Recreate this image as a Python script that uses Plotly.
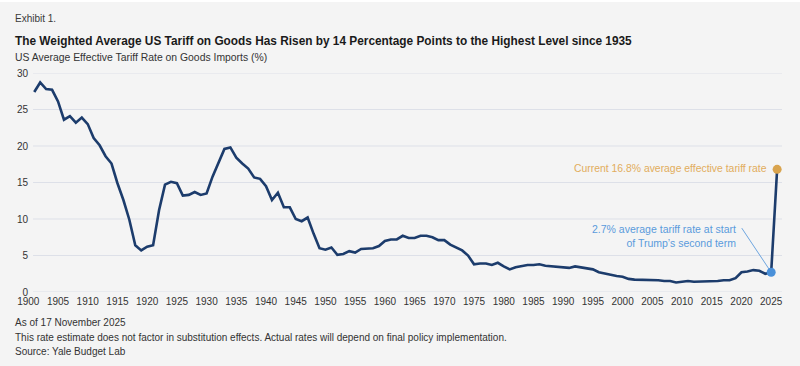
import plotly.graph_objects as go

years = list(range(1901, 2026))
tariff = [27.4, 28.7, 27.8, 27.7, 26.1, 23.6, 24.1, 23.2, 23.9, 23.0,
          21.1, 20.1, 18.6, 17.6, 14.9, 12.6, 9.9, 6.4, 5.7, 6.2,
          6.4, 11.2, 14.7, 15.1, 14.9, 13.2, 13.3, 13.7, 13.3, 13.5,
          15.8, 17.8, 19.6, 19.8, 18.4, 17.6, 16.9, 15.7, 15.5, 14.5,
          12.6, 13.6, 11.6, 11.6, 10.0, 9.7, 10.2, 8.0, 6.0, 5.8,
          6.1, 5.1, 5.2, 5.6, 5.4, 5.9, 5.9, 6.0, 6.3, 7.0,
          7.2, 7.2, 7.7, 7.4, 7.4, 7.7, 7.7, 7.5, 7.1, 7.1,
          6.5, 6.1, 5.7, 5.0, 3.8, 3.9, 3.9, 3.7, 4.0, 3.5,
          3.1, 3.4, 3.6, 3.7, 3.7, 3.8, 3.6, 3.5, 3.4, 3.4,
          3.3, 3.5, 3.4, 3.3, 3.1, 2.7, 2.5, 2.3, 2.2, 2.1,
          1.8, 1.7, 1.7, 1.7, 1.6, 1.6, 1.5, 1.5, 1.3, 1.4,
          1.5, 1.4, 1.4, 1.4, 1.5, 1.5, 1.6, 1.6, 1.9, 2.7,
          2.8, 3.0, 2.9, 2.5, 2.7]
start_term_year = 2025
start_term_rate = 2.7
current_year = 2026
current_rate = 16.8

x_ticks = list(range(1900, 2030, 5))
y_ticks = list(range(0, 35, 5))

title = "The Weighted Average US Tariff on Goods Has Risen by 14 Percentage Points to the Highest Level since 1935"
subtitle = "US Average Effective Tariff Rate on Goods Imports (%)"
exhibit = "Exhibit 1."
notes = ["As of 17 November 2025",
         "This rate estimate does not factor in substitution effects. Actual rates will depend on final policy implementation.",
         "Source: Yale Budget Lab"]
gold_label = "Current 16.8% average effective tariff rate"
blue_label = "2.7% average tariff rate at start<br>of Trump\u2019s second term"

NAVY = "#1c3c6c"
BLUE = "#4a90d9"
GOLD = "#d9a44e"
GOLD_TXT = "#e2ad5c"
BLUE_TXT = "#5a9bdc"
GRID = "#dde0e8"
BG = "#f4f4f4"
FONT = "Liberation Sans, Arial, Helvetica, sans-serif"

L, R, T, B = 27, 18, 73, 74
W, H = 800, 366
PW = W - L - R
PH = H - T - B

def px_x(p):
    return (p - L) / PW

def px_y(p):
    return (H - B - p) / PH

line_x = years + [current_year]
line_y = tariff + [current_rate]

fig = go.Figure()
fig.add_trace(go.Scatter(x=line_x, y=line_y, mode="lines",
                         line=dict(color=NAVY, width=2.6), hoverinfo="skip"))
fig.add_trace(go.Scatter(x=[start_term_year], y=[start_term_rate], mode="markers",
                         marker=dict(color=BLUE, size=9), hoverinfo="skip"))
fig.add_trace(go.Scatter(x=[current_year], y=[current_rate], mode="markers",
                         marker=dict(color=GOLD, size=9), hoverinfo="skip"))

shapes = []
for v in y_ticks:
    shapes.append(dict(type="line", xref="x", yref="y", x0=1900.8, x1=2026.82,
                       y0=v, y1=v, line=dict(color=GRID, width=1), layer="below"))
# leader line from the start-of-term point to its label
shapes.append(dict(type="line", xref="x", yref="y", x0=start_term_year, y0=start_term_rate,
                   x1=2020.05, y1=8.75, line=dict(color=BLUE, width=0.8)))
# thin white strip at the very top
shapes.append(dict(type="rect", xref="paper", yref="paper", x0=px_x(0), x1=px_x(W),
                   y0=px_y(2), y1=px_y(-1), fillcolor="white", line=dict(width=0), layer="below"))

ann = []
def txt(text, x, y, size, color, bold=False):
    ann.append(dict(text=f"<b>{text}</b>" if bold else text, xref="paper", yref="paper",
                    x=px_x(x), y=px_y(y), xanchor="left", yanchor="middle", showarrow=False,
                    font=dict(size=size, color=color, family=FONT), align="left"))

txt(exhibit, 13, 18.5, 10, "#3a3a3a")
txt(title, 13, 41, 11.85, "#1a1a1a", bold=True)
txt(subtitle, 13, 57.5, 10.4, "#333333")
for i, n in enumerate(notes):
    txt(n, 12.5, 322.5 + 14.5 * i, 10, "#333333")

ann.append(dict(text=gold_label, x=current_year, y=current_rate, xref="x", yref="y",
                xanchor="right", yanchor="middle", xshift=-8.5, yshift=0.5, showarrow=False,
                font=dict(size=10.4, color=GOLD_TXT, family=FONT)))
ann.append(dict(text=blue_label, x=start_term_year, y=start_term_rate, xref="x", yref="y",
                xanchor="right", yanchor="middle", align="right", xshift=-33.5, yshift=36,
                showarrow=False, font=dict(size=10.5, color=BLUE_TXT, family=FONT)))

fig.update_layout(
    width=W, height=H, margin=dict(l=L, r=R, t=T, b=B, pad=0),
    paper_bgcolor=BG, plot_bgcolor=BG, showlegend=False,
    font=dict(family=FONT, size=10, color="#333333"),
    shapes=shapes, annotations=ann,
    xaxis=dict(range=[1899.78, 2026.82], tickmode="array", tickvals=x_ticks,
               showgrid=False, zeroline=False, showline=False, ticks="",
               tickfont=dict(size=10, color="#333333"), ticklabelstandoff=2, fixedrange=True),
    yaxis=dict(range=[0, 30], tickmode="array", tickvals=y_ticks,
               showgrid=False, zeroline=False, showline=False, ticks="",
               tickfont=dict(size=10, color="#333333"), ticklabelstandoff=-2, fixedrange=True),
)

fig.write_html("out.html", config={"displayModeBar": False},
               post_script="document.body.style.margin='0';document.body.style.overflow='hidden';")
